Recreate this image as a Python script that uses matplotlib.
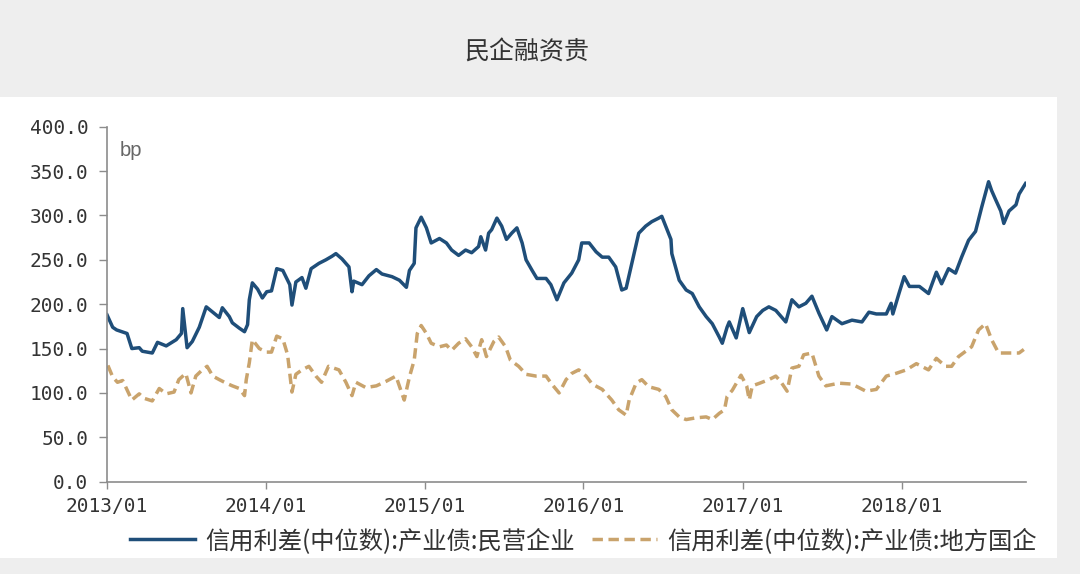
import matplotlib
matplotlib.use("Agg")
import matplotlib.pyplot as plt
import matplotlib.dates as mdates
from matplotlib.patches import Rectangle
from matplotlib.ticker import FuncFormatter
import numpy as np
import pandas as pd

# values (bp)
blue_label = "信用利差(中位数):产业债:民营企业"
tan_label = "信用利差(中位数):产业债:地方国企"

blue_dates = [
    "2013-01-01", "2013-01-14", "2013-01-23", "2013-02-16", "2013-02-27", "2013-03-16", "2013-03-23",
    "2013-04-15", "2013-04-27", "2013-05-17", "2013-06-09", "2013-06-21", "2013-06-24", "2013-07-04",
    "2013-07-16", "2013-08-01", "2013-08-17", "2013-09-01", "2013-09-16", "2013-09-23", "2013-10-09",
    "2013-10-16", "2013-11-01", "2013-11-13", "2013-11-20", "2013-11-24", "2013-12-01", "2013-12-13",
    "2013-12-24",
    "2014-01-03", "2014-01-14", "2014-01-26", "2014-02-09", "2014-02-25", "2014-03-02", "2014-03-11",
    "2014-03-25", "2014-04-03", "2014-04-15", "2014-05-03", "2014-05-19", "2014-06-02", "2014-06-11",
    "2014-06-25", "2014-07-11", "2014-07-18", "2014-07-22", "2014-08-10", "2014-08-26", "2014-09-12",
    "2014-09-25", "2014-10-18", "2014-11-04", "2014-11-20", "2014-11-27", "2014-12-08", "2014-12-12",
    "2014-12-24",
    "2015-01-05", "2015-01-16", "2015-02-04", "2015-02-20", "2015-03-04", "2015-03-20", "2015-04-05",
    "2015-04-19", "2015-05-05", "2015-05-10", "2015-05-21", "2015-05-28", "2015-06-04", "2015-06-16",
    "2015-06-27", "2015-07-08", "2015-07-20", "2015-08-01", "2015-08-13", "2015-08-22", "2015-09-05",
    "2015-09-16", "2015-10-07", "2015-10-18", "2015-11-01", "2015-11-17", "2015-12-05", "2015-12-21",
    "2015-12-28",
    "2016-01-14", "2016-01-30", "2016-02-13", "2016-02-28", "2016-03-15", "2016-03-29", "2016-04-08",
    "2016-04-21", "2016-05-07", "2016-05-23", "2016-06-06", "2016-06-22", "2016-06-29", "2016-07-08",
    "2016-07-20", "2016-07-22", "2016-08-08", "2016-08-24", "2016-09-07", "2016-09-23", "2016-10-09",
    "2016-10-23", "2016-11-08", "2016-11-15", "2016-11-26", "2016-12-01", "2016-12-17",
    "2017-01-01", "2017-01-16", "2017-02-02", "2017-02-16", "2017-03-02", "2017-03-18", "2017-04-10",
    "2017-04-24", "2017-05-10", "2017-05-26", "2017-06-09", "2017-06-25", "2017-07-13", "2017-07-25",
    "2017-08-17", "2017-09-09", "2017-10-02", "2017-10-18", "2017-11-04", "2017-11-27", "2017-12-08",
    "2017-12-12", "2017-12-26",
    "2018-01-07", "2018-01-19", "2018-02-11", "2018-03-04", "2018-03-22", "2018-04-03", "2018-04-19",
    "2018-05-05", "2018-05-19", "2018-06-04", "2018-06-20", "2018-07-04", "2018-07-20", "2018-07-27",
    "2018-08-05", "2018-08-17", "2018-08-24", "2018-09-05", "2018-09-21", "2018-09-28", "2018-10-13",
]
blue_vals = [
    188, 174, 171, 167, 150, 151, 147, 145, 157, 153, 160, 167, 195, 151, 158, 174, 197, 191, 185, 196,
    186, 179, 173, 169, 177, 205, 224, 217, 207,
    214, 215, 240, 238, 222, 199, 225, 230, 218, 240, 246, 250, 254, 257, 251, 242, 214, 226, 222, 232,
    239, 234, 231, 227, 219, 238, 246, 286, 298,
    286, 269, 274, 269, 261, 255, 261, 258, 265, 276, 261, 280, 284, 297, 288, 273, 280, 286, 269, 250,
    238, 229, 229, 222, 205, 224, 235, 250, 269,
    269, 259, 253, 253, 242, 216, 218, 246, 280, 288, 293, 297, 299, 288, 273, 257, 227, 216, 212, 197,
    186, 178, 163, 156, 174, 180, 162,
    195, 168, 186, 193, 197, 193, 180, 205, 197, 201, 209, 190, 171, 186, 178, 182, 180, 191, 189, 189,
    201, 189, 212,
    231, 220, 220, 212, 236, 223, 240, 235, 253, 272, 282, 309, 338, 328, 318, 305, 291, 305, 312, 324,
    336,
]

tan_dates = [
    "2013-01-03", "2013-01-14", "2013-01-25", "2013-02-06", "2013-02-27", "2013-03-16", "2013-03-27",
    "2013-04-15", "2013-05-01", "2013-05-17", "2013-06-04", "2013-06-15", "2013-07-01", "2013-07-13",
    "2013-07-24", "2013-08-08", "2013-08-19", "2013-09-01", "2013-09-16", "2013-10-02", "2013-10-16",
    "2013-11-01", "2013-11-13", "2013-11-17", "2013-11-24", "2013-12-01", "2013-12-17",
    "2014-01-03", "2014-01-14", "2014-01-26", "2014-02-09", "2014-02-20", "2014-03-02", "2014-03-11",
    "2014-03-25", "2014-04-10", "2014-04-26", "2014-05-09", "2014-05-25", "2014-06-18", "2014-07-04",
    "2014-07-18", "2014-07-27", "2014-08-19", "2014-09-12", "2014-10-04", "2014-10-27", "2014-11-15",
    "2014-11-27", "2014-12-08", "2014-12-15", "2014-12-24",
    "2015-01-05", "2015-01-16", "2015-02-04", "2015-02-20", "2015-03-04", "2015-03-20", "2015-04-05",
    "2015-04-19", "2015-05-01", "2015-05-12", "2015-05-23", "2015-06-09", "2015-06-20", "2015-07-06",
    "2015-07-17", "2015-08-05", "2015-08-22", "2015-09-14", "2015-10-07", "2015-10-20", "2015-11-06",
    "2015-11-22", "2015-12-05", "2015-12-21",
    "2016-01-07", "2016-01-21", "2016-02-13", "2016-03-06", "2016-03-22", "2016-04-08", "2016-04-15",
    "2016-05-01", "2016-05-14", "2016-05-30", "2016-06-22", "2016-07-08", "2016-07-22", "2016-08-08",
    "2016-08-24", "2016-09-16", "2016-10-09", "2016-10-23", "2016-11-08", "2016-11-20", "2016-11-26",
    "2016-12-08", "2016-12-28",
    "2017-01-10", "2017-01-16", "2017-01-23", "2017-02-09", "2017-03-02", "2017-03-18", "2017-03-29",
    "2017-04-13", "2017-04-24", "2017-05-10", "2017-05-21", "2017-06-09", "2017-06-25", "2017-07-11",
    "2017-08-10", "2017-09-09", "2017-10-11", "2017-11-04", "2017-11-27", "2017-12-19",
    "2018-01-12", "2018-02-04", "2018-03-04", "2018-03-22", "2018-04-12", "2018-04-26", "2018-05-12",
    "2018-06-11", "2018-06-27", "2018-07-13", "2018-07-27", "2018-08-12", "2018-09-05", "2018-09-28",
    "2018-10-09",
]
tan_vals = [
    131, 118, 112, 114, 92, 99, 94, 91, 105, 99, 101, 115, 122, 100, 119, 126, 130, 119, 115, 111,
    108, 105, 97, 115, 134, 160, 150,
    146, 146, 164, 161, 143, 101, 121, 126, 130, 119, 112, 130, 126, 112, 97, 112, 106, 108, 113,
    119, 92, 118, 137, 167, 176,
    167, 156, 152, 154, 148, 156, 161, 152, 141, 160, 141, 158, 163, 152, 137, 130, 121, 119, 119,
    110, 100, 115, 122, 126,
    119, 110, 104, 92, 81, 75, 92, 111, 115, 107, 104, 96, 81, 73, 70, 72, 73, 70, 77, 81, 96, 103, 120,
    108, 92, 108, 111, 115, 119, 113, 102, 128, 130, 143, 145, 119, 108, 111, 110, 102, 104, 119, 122,
    126, 133, 126, 139, 130, 130, 141, 152, 171, 178, 160, 145, 145, 145, 149,
]

y_ticks = [0, 50, 100, 150, 200, 250, 300, 350, 400]
x_ticks = ["2013-01-01", "2014-01-01", "2015-01-01", "2016-01-01", "2017-01-01", "2018-01-01"]

blue = "#1f4e79"
tan = "#c9a36c"
cjk = ["Noto Sans CJK SC", "DejaVu Sans"]

fig = plt.figure(figsize=(10.8, 5.74), dpi=100, facecolor="#eeeeee")
fig.add_artist(Rectangle((0, 0.0279), 0.9787, 0.8031, transform=fig.transFigure,
                         facecolor="white", edgecolor="none", zorder=-1))

fig.text(0.488, 0.909, "民企融资贵", ha="center", va="center", fontsize=18,
         color="#333333", family=cjk)

ax = fig.add_axes([0.0991, 0.1608, 0.8509, 0.6185])
ax.set_facecolor("white")

ax.plot(pd.to_datetime(blue_dates), blue_vals, color=blue, lw=2.5, label=blue_label)
ax.plot(pd.to_datetime(tan_dates), tan_vals, color=tan, lw=2.5, linestyle=(0, (3, 1.6)),
        label=tan_label)

ax.set_ylim(0, 400)
ax.set_xlim(pd.Timestamp("2013-01-01"), pd.Timestamp("2018-10-14"))
ax.set_yticks(y_ticks)
ax.yaxis.set_major_formatter(FuncFormatter(lambda v, p: f"{v:.1f}"))
ax.set_xticks(pd.to_datetime(x_ticks))
ax.xaxis.set_major_formatter(mdates.DateFormatter("%Y/%m"))

for s in ["top", "right"]:
    ax.spines[s].set_visible(False)
for s in ["left", "bottom"]:
    ax.spines[s].set_color("#8c8c8c")
    ax.spines[s].set_linewidth(1.2)

ax.tick_params(axis="y", direction="out", length=5.5, width=1, color="#8c8c8c", pad=8,
               labelsize=14, labelcolor="#333333")
ax.tick_params(axis="x", direction="out", length=5, width=1, color="#8c8c8c", pad=6,
               labelsize=14, labelcolor="#333333")
for lab in ax.get_xticklabels() + ax.get_yticklabels():
    lab.set_family("DejaVu Sans Mono")

ax.text(0.014, 0.934, "bp", transform=ax.transAxes, ha="left", va="center", fontsize=14.5,
        color="#666666", family="Liberation Sans")

leg = fig.legend(loc="center", bbox_to_anchor=(0.54, 0.0575), ncol=2, frameon=False,
                 prop={"family": cjk, "size": 17.5}, handlelength=2.7, handletextpad=0.4,
                 columnspacing=0.7)
for t in leg.get_texts():
    t.set_color("#333333")

fig.savefig("out.png", dpi=100, facecolor=fig.get_facecolor())
